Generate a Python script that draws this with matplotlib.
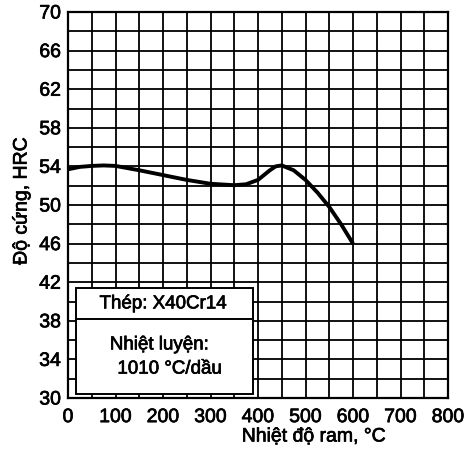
import matplotlib.pyplot as plt
import matplotlib.patheffects as pe
from matplotlib.patches import Rectangle

# Độ cứng sau ram, thép X40Cr14
nhiet_do = [0, 25, 50, 75, 100, 150, 200, 250, 300, 350, 375, 400, 425, 437, 450,
            475, 500, 525, 550, 575, 600]
do_cung = [53.7, 53.95, 54.05, 54.1, 54.05, 53.6, 53.1, 52.6, 52.2, 52.05, 52.15,
           52.6, 53.6, 54.0, 54.1, 53.6, 52.6, 51.3, 49.8, 48.0, 46.0]

x_ticks = list(range(0, 801, 100))
y_ticks = list(range(30, 71, 4))

plt.rcParams['font.family'] = ['Liberation Sans', 'DejaVu Sans']
dam = [pe.withStroke(linewidth=0.5, foreground='black')]

fig = plt.figure(figsize=(4.71, 4.54), dpi=100)
ax = fig.add_axes([68 / 471, 1 - 398 / 454, 380 / 471, 386 / 454])

ax.plot(nhiet_do, do_cung, color='black', lw=2.8, solid_capstyle='butt', zorder=3)

ax.set_xlim(0, 800)
ax.set_ylim(30, 70)
ax.set_xticks(x_ticks)
ax.set_yticks(y_ticks)
ax.set_xticks(range(0, 801, 50), minor=True)
ax.set_yticks(range(30, 71, 2), minor=True)
ax.grid(which='both', color='black', lw=1.3)
ax.tick_params(which='both', length=0, labelsize=14, colors='black')
ax.tick_params(axis='x', pad=8)
ax.tick_params(axis='y', pad=5)
for lbl in ax.get_xticklabels() + ax.get_yticklabels():
    lbl.set_path_effects(dam)
for s in ax.spines.values():
    s.set_linewidth(1.6)

# hộp ghi chú
ax.add_patch(Rectangle((17, 30.4), 372.5, 11.0, facecolor='white', edgecolor='black',
                       lw=1.4, zorder=4))
ax.plot([17, 389.5], [38.2, 38.2], color='black', lw=1.4, zorder=5)
ax.text(200, 39.75, 'Thép: X40Cr14', fontsize=13.5, ha='center', va='center', zorder=6,
        path_effects=dam)
ax.text(88, 35.5, 'Nhiệt luyện:', fontsize=13.5, ha='left', va='center', zorder=6,
        path_effects=dam)
ax.text(104, 33.0, '1010 °C/dầu', fontsize=13.5, ha='left', va='center', zorder=6,
        path_effects=dam)

fig.text(314 / 471, 1 - 437 / 454, 'Nhiệt độ ram, °C', fontsize=14, ha='center',
         va='center', path_effects=dam)
fig.text(22 / 471, 1 - 201 / 454, 'Độ cứng, HRC', fontsize=14, rotation=90,
         ha='center', va='center', path_effects=dam)

fig.savefig('out.png', dpi=100)
